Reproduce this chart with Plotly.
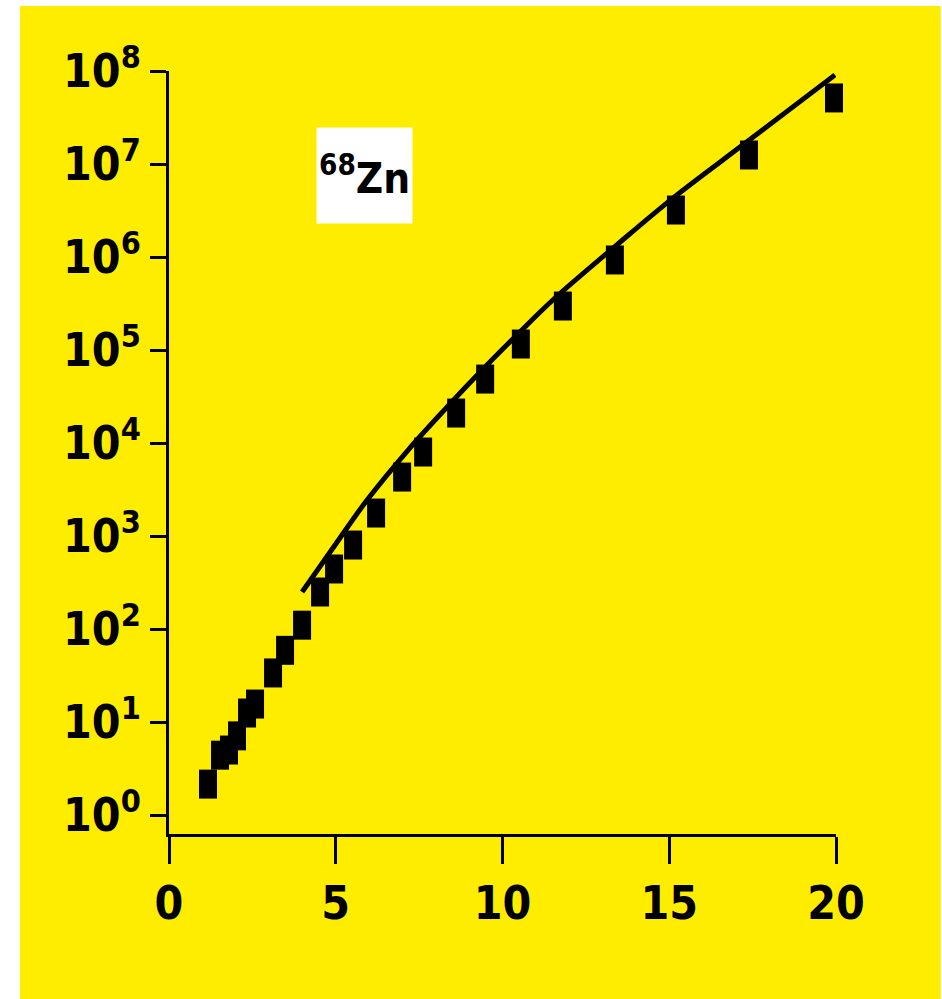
import plotly.graph_objects as go

# Data
exp_x = [1.17, 1.53, 1.80, 2.04, 2.34, 2.58, 3.12, 3.48, 3.99, 4.53, 4.95, 5.52,
         6.21, 6.99, 7.62, 8.61, 9.48, 10.55, 11.81, 13.37, 15.20, 17.39, 19.94]
exp_y = [2.15, 4.4, 5.0, 7.1, 12.5, 15.6, 33.7, 59, 110, 250, 442, 800,
         1766, 4305, 8000, 21000, 48700, 116000, 297000, 929000, 3.2e6, 1.25e7, 5.13e7]

calc_x = [3.99, 4.98, 5.94, 7.17, 8.34, 9.33, 10.52, 11.51, 13.43, 15.11, 17.33, 19.97]
calc_y = [250, 800, 2440, 8410, 24400, 57900, 156000, 345000, 1.35e6, 4.3e6, 1.73e7, 9.06e7]

x_ticks = [0, 5, 10, 15, 20]
y_exps = [0, 1, 2, 3, 4, 5, 6, 7, 8]
y_tickvals = [10 ** e for e in y_exps]
y_ticktext = ["10<sup>%d</sup>" % e for e in y_exps]

label_text = "<sup>68</sup>Zn"

YELLOW = "#FFED00"
FONT = "DejaVu Sans Condensed, Liberation Sans Narrow, Liberation Sans, sans-serif"

fig = go.Figure()

fig.add_trace(go.Scatter(
    x=calc_x, y=calc_y, mode="lines",
    line=dict(color="black", width=5, shape="spline", smoothing=1.0),
    showlegend=False, hoverinfo="skip"))

fig.add_trace(go.Scatter(
    x=exp_x, y=exp_y, mode="markers", cliponaxis=False,
    marker=dict(symbol="line-ns", size=20.7, color="black",
                line=dict(color="black", width=18)),
    showlegend=False))

fig.add_annotation(
    x=5.86, y=6.876, xref="x", yref="y",
    text=label_text, showarrow=False,
    font=dict(family=FONT, size=42, color="black", weight="bold"),
    bgcolor="white", height=91, borderpad=2,
    xanchor="center", yanchor="middle", align="center", valign="middle")

# yellow background panel (leaves a thin white strip at left and top)
fig.add_shape(type="rect", xref="paper", yref="paper",
              x0=-0.2234, x1=1.157, y0=-0.23, y1=1.0852,
              fillcolor=YELLOW, line=dict(width=0), layer="below")

TICKFONT = dict(family=FONT, size=46, color="black", weight="bold")

fig.update_layout(
    width=942, height=999,
    margin=dict(l=169, r=106, t=71, b=165),
    paper_bgcolor="white",
    plot_bgcolor="rgba(0,0,0,0)",
    font=dict(family=FONT, size=46, color="black", weight="bold"),
    xaxis=dict(range=[0, 20], tickmode="array", tickvals=x_ticks,
               ticktext=[str(v) for v in x_ticks],
               showline=True, linecolor="black", linewidth=3,
               ticks="outside", ticklen=27, tickwidth=3, tickcolor="black",
               showgrid=False, zeroline=False, tickfont=TICKFONT),
    yaxis=dict(type="log", range=[-0.204, 8], tickmode="array",
               tickvals=y_tickvals, ticktext=y_ticktext,
               showline=True, linecolor="black", linewidth=3,
               ticks="outside", ticklen=16, tickwidth=3, tickcolor="black",
               showgrid=False, zeroline=False, tickfont=TICKFONT),
)

fig.write_html("out.html")
